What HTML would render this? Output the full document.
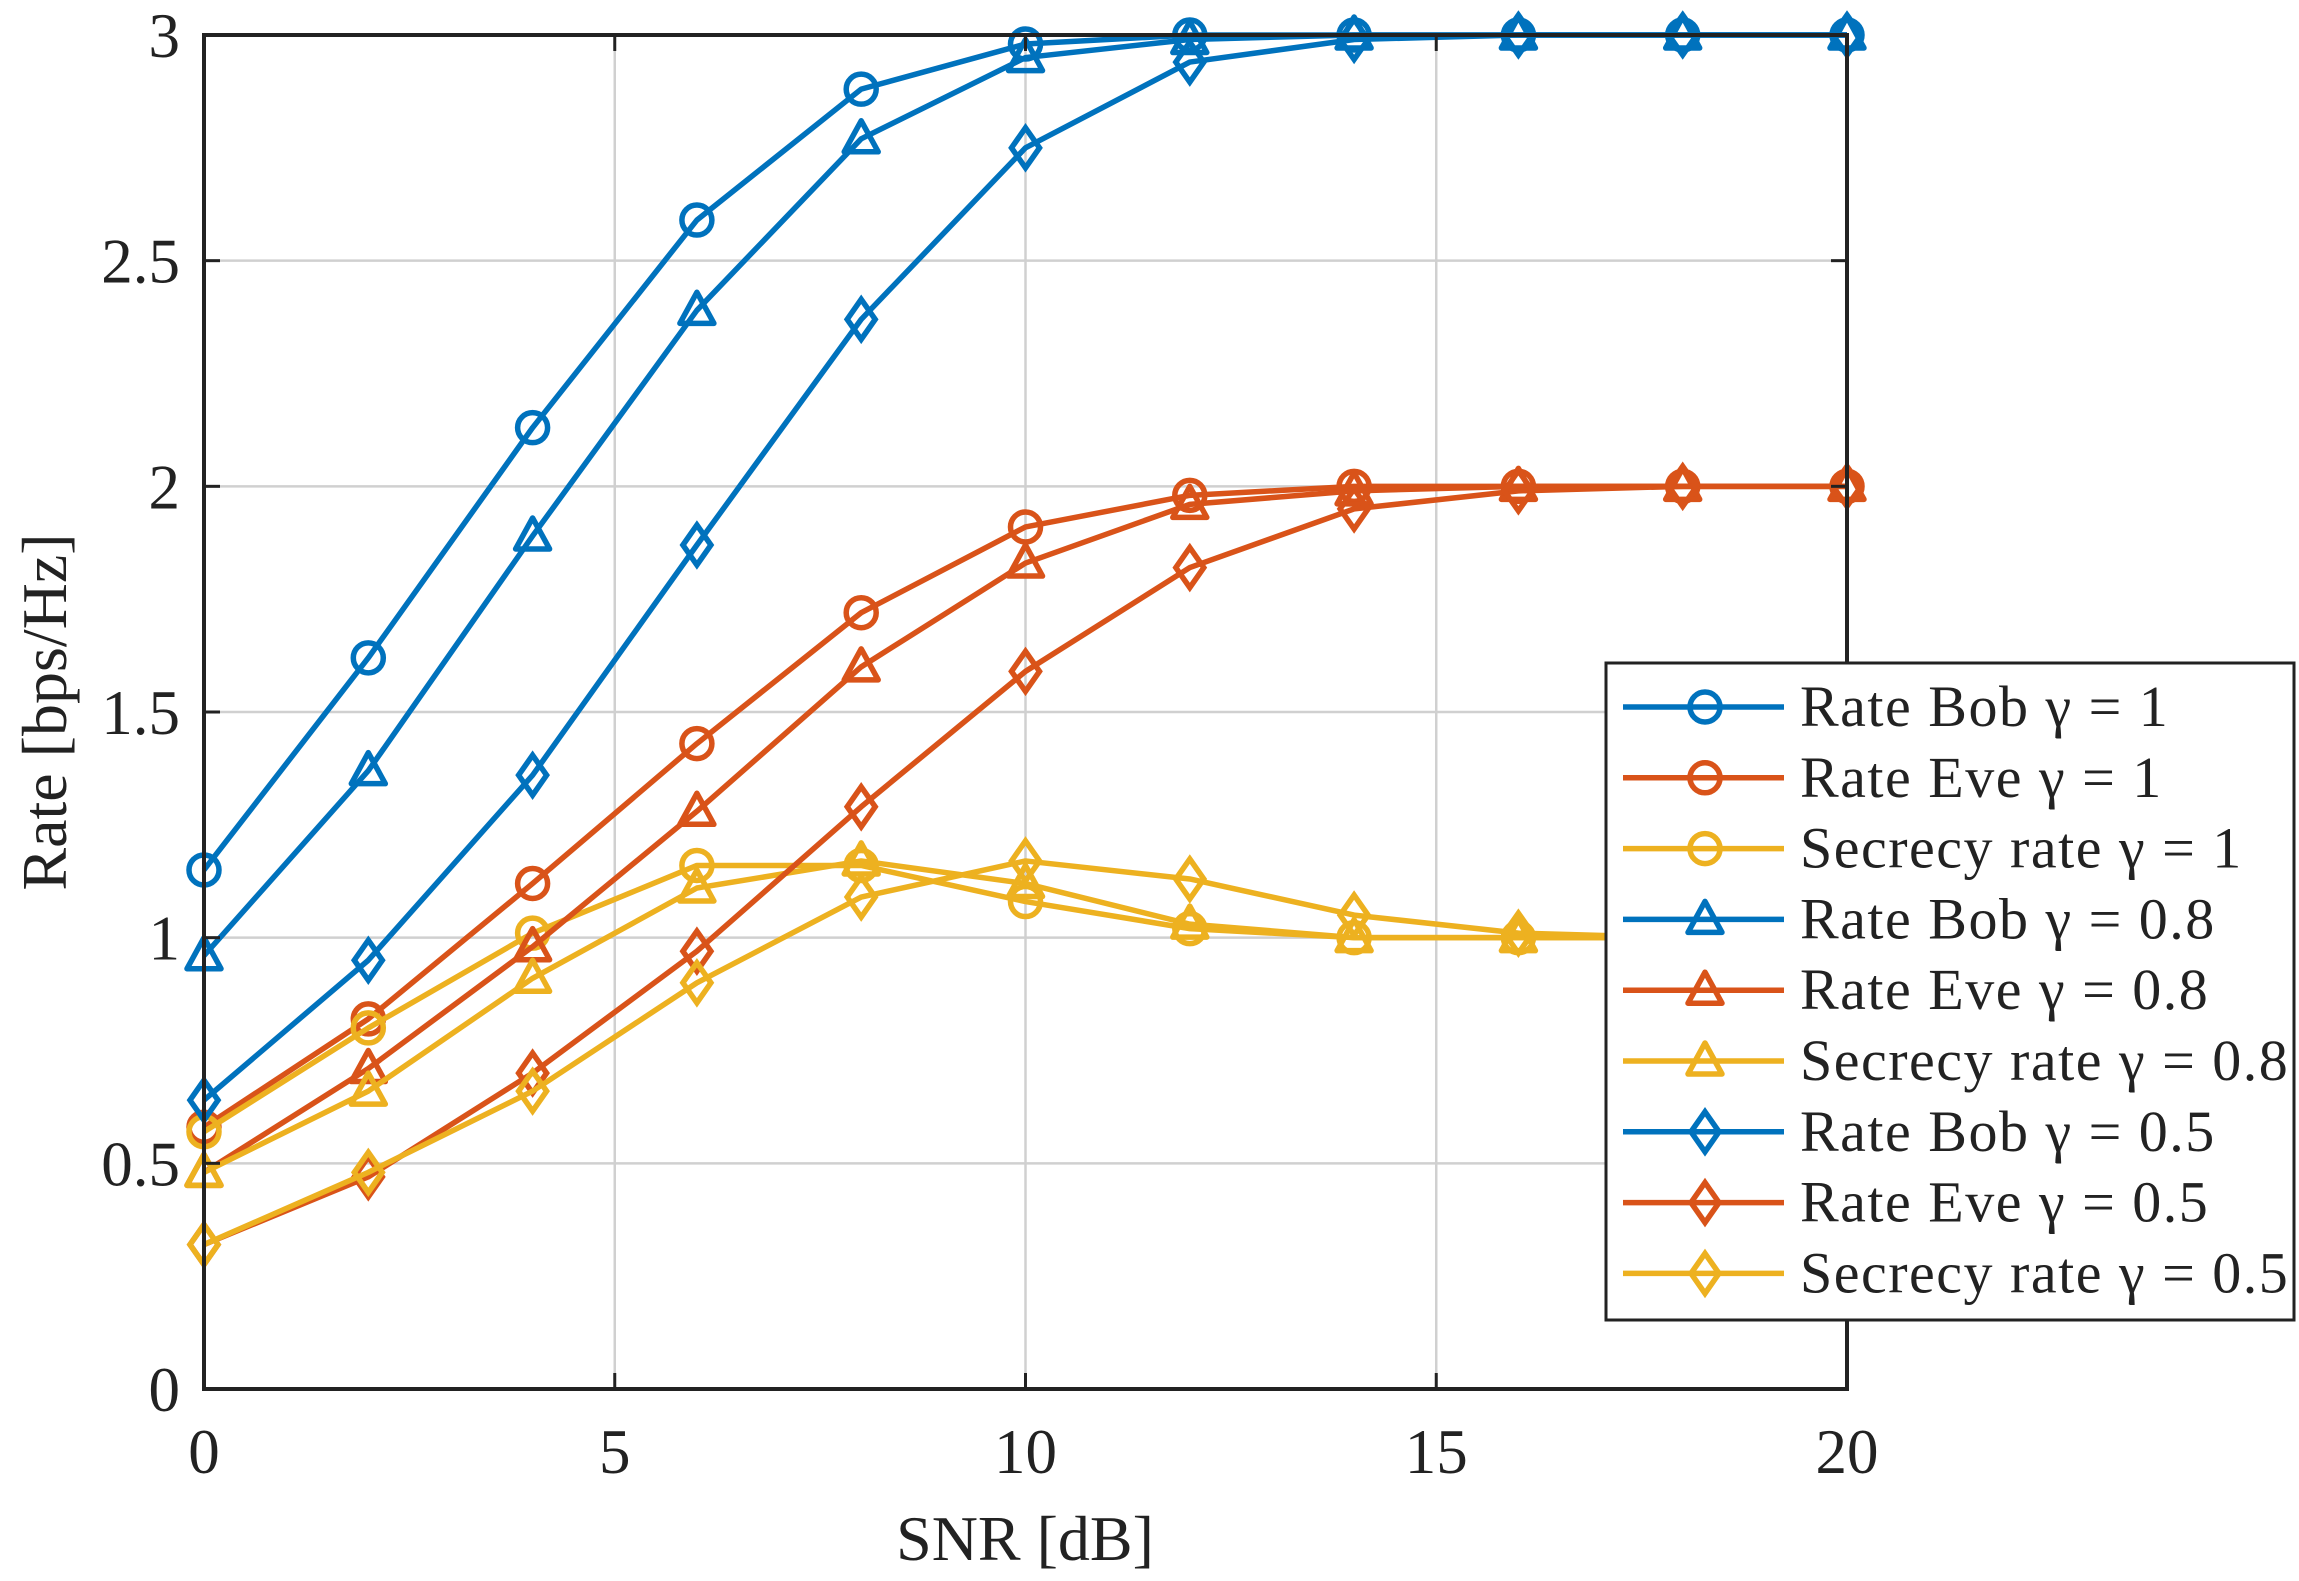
<!DOCTYPE html>
<html><head><meta charset="utf-8"><style>
html,body{margin:0;padding:0;background:#fff}
svg{display:block}
text{font-family:"Liberation Serif","DejaVu Serif",serif;fill:#222}
</style></head><body>
<svg id="chart" width="2299" height="1581" viewBox="0 0 2299 1581">
<g id="grid"></g>
<g id="series"></g>
<rect x="204" y="35" width="1643" height="1354" fill="none" stroke="#222" stroke-width="4"/>
<g id="ticks"></g>
<text x="1025" y="1560" font-size="64" text-anchor="middle">SNR [dB]</text>
<text x="66" y="712" font-size="64" text-anchor="middle" transform="rotate(-90 66 712)">Rate [bps/Hz]</text>
<g id="legend"></g>
</svg>
<script>
const snr = [0,2,4,6,8,10,12,14,16,18,20];
const bob1 = [1.15,1.62,2.13,2.59,2.88,2.98,3.0,3.0,3.0,3.0,3.0];
const eve1 = [0.58,0.82,1.12,1.43,1.72,1.91,1.98,2.0,2.0,2.0,2.0];
const sec1 = [0.57,0.80,1.01,1.16,1.16,1.08,1.02,1.0,1.0,1.0,1.0];
const bob08 = [0.96,1.37,1.89,2.39,2.77,2.95,2.99,3.0,3.0,3.0,3.0];
const eve08 = [0.48,0.71,0.98,1.28,1.60,1.83,1.96,1.99,2.0,2.0,2.0];
const sec08 = [0.48,0.66,0.91,1.11,1.17,1.12,1.03,1.0,1.0,1.0,1.0];
const bob05 = [0.64,0.95,1.36,1.87,2.37,2.75,2.94,2.99,3.0,3.0,3.0];
const eve05 = [0.32,0.47,0.70,0.97,1.29,1.59,1.82,1.95,1.99,2.0,2.0];
const sec05 = [0.32,0.48,0.66,0.90,1.09,1.17,1.13,1.05,1.01,1.0,1.0];
const xTicks = [0,5,10,15,20];
const yTicks = [0,0.5,1,1.5,2,2.5,3];
const yTickLabels = ["0","0.5","1","1.5","2","2.5","3"];
const legendLabels = ["Rate Bob \u03B3 = 1","Rate Eve \u03B3 = 1","Secrecy rate \u03B3 = 1","Rate Bob \u03B3 = 0.8","Rate Eve \u03B3 = 0.8","Secrecy rate \u03B3 = 0.8","Rate Bob \u03B3 = 0.5","Rate Eve \u03B3 = 0.5","Secrecy rate \u03B3 = 0.5"];

const NS='http://www.w3.org/2000/svg';
const L=204,R=1847,T=35,B=1389;
const sx=v=>L+(v-0)/(20-0)*(R-L);
const sy=v=>B-(v-0)/(3-0)*(B-T);
const BLUE='#0072BD',ORANGE='#D95319',YELLOW='#EDB120';
const LW=5.5;
function mk(tag,attrs,parent){const e=document.createElementNS(NS,tag);for(const k in attrs)e.setAttribute(k,attrs[k]);parent.appendChild(e);return e;}
const grid=document.getElementById('grid'),ticks=document.getElementById('ticks'),ser=document.getElementById('series'),leg=document.getElementById('legend');

xTicks.forEach(v=>{
  const x=sx(v);
  const g=mk('line',{x1:x,x2:x,y1:T,y2:B,stroke:'#d0d0d0','stroke-width':2.5},grid);
  
  
  mk('line',{x1:x,x2:x,y1:B,y2:B-16,stroke:'#222','stroke-width':3},ticks);
  mk('line',{x1:x,x2:x,y1:T,y2:T+16,stroke:'#222','stroke-width':3},ticks);
  const t=mk('text',{x:x,y:1473,'font-size':63,'text-anchor':'middle'},ticks);
  t.textContent=String(v);
  
  
});
yTicks.forEach((v,i)=>{
  const y=sy(v);
  const g=mk('line',{x1:L,x2:R,y1:y,y2:y,stroke:'#d0d0d0','stroke-width':2.5},grid);
  
  
  mk('line',{x1:L,x2:L+16,y1:y,y2:y,stroke:'#222','stroke-width':3},ticks);
  mk('line',{x1:R,x2:R-16,y1:y,y2:y,stroke:'#222','stroke-width':3},ticks);
  const t=mk('text',{x:180,y:y+22,'font-size':63,'text-anchor':'end'},ticks);
  t.textContent=yTickLabels[i];
  
  
});

function marker(type,x,y,color,parent){
  let e;
  if(type==='o') e=mk('circle',{cx:x,cy:y,r:15,fill:'none',stroke:color,'stroke-width':LW},parent);
  else if(type==='^') e=mk('polygon',{points:`${x},${y-18} ${x+17},${y+13} ${x-17},${y+13}`,fill:'none',stroke:color,'stroke-width':LW,'stroke-linejoin':'round'},parent);
  else e=mk('polygon',{points:`${x},${y-20} ${x+14},${y} ${x},${y+20} ${x-14},${y}`,fill:'none',stroke:color,'stroke-width':LW},parent);
  return e;
}
const seriesList=[
 [bob1,BLUE,'o','rate-bob-gamma-1'],[eve1,ORANGE,'o','rate-eve-gamma-1'],[sec1,YELLOW,'o','secrecy-rate-gamma-1'],
 [bob08,BLUE,'^','rate-bob-gamma-0.8'],[eve08,ORANGE,'^','rate-eve-gamma-0.8'],[sec08,YELLOW,'^','secrecy-rate-gamma-0.8'],
 [bob05,BLUE,'d','rate-bob-gamma-0.5'],[eve05,ORANGE,'d','rate-eve-gamma-0.5'],[sec05,YELLOW,'d','secrecy-rate-gamma-0.5']];
seriesList.forEach(([vals,col,m,name])=>{
  const g=mk('g',{},ser);
  
  
  const pts=vals.map((v,i)=>sx(snr[i])+','+sy(v)).join(' ');
  const pl=mk('polyline',{points:pts,fill:'none',stroke:col,'stroke-width':LW,'stroke-linejoin':'round'},g);
  
  
  vals.forEach((v,i)=>{
    const mm=marker(m,sx(snr[i]),sy(v),col,g);
    
    
  });
});

const lb=mk('rect',{x:1606,y:663,width:688,height:657,fill:'#fff',stroke:'#222','stroke-width':3},leg);


seriesList.forEach(([vals,col,m,name],i)=>{
  const y=707+i*70.8;
  const g=mk('g',{},leg);
  
  
  mk('line',{x1:1623,x2:1784,y1:y,y2:y,stroke:col,'stroke-width':LW},g);
  marker(m,1705,y,col,g);
  const t=mk('text',{x:1800,y:y+19,'font-size':58,'letter-spacing':'1.5'},g);
  t.textContent=legendLabels[i];
});
</script>
</body></html>
